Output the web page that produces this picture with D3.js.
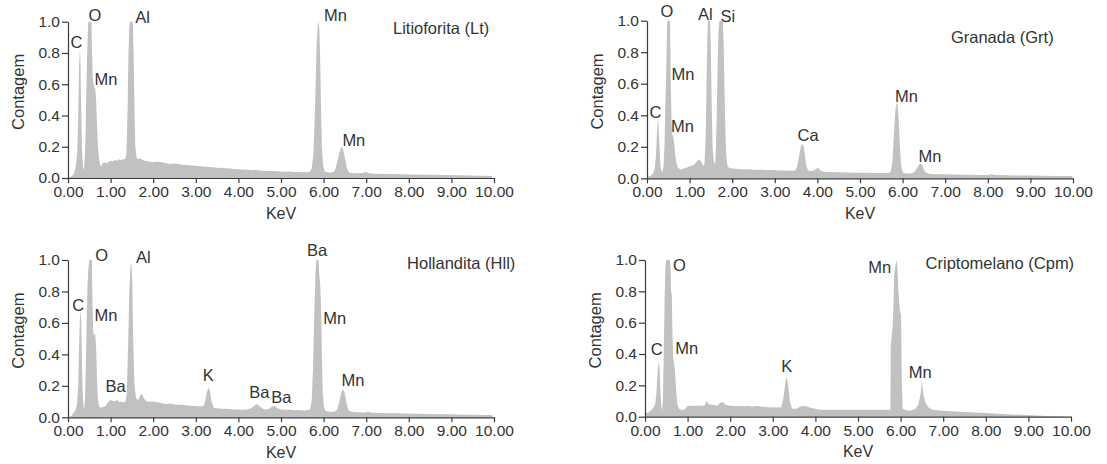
<!DOCTYPE html>
<html>
<head>
<meta charset="utf-8">
<script src="https://cdn.jsdelivr.net/npm/d3@7"></script>
<style>
  body { margin: 0; background: #fff; }
  text { font-family: "Liberation Sans", Arial, sans-serif; fill: #333; }
</style>
</head>
<body>
<svg id="chart" width="1107" height="464"></svg>
<script>
// EDS spectra, [keV, normalized count]
const ltSpectrum = [[0.00,0.00],[0.05,0.005],[0.10,0.015],[0.14,0.03],[0.18,0.07],[0.20,0.12],[0.22,0.18],[0.24,0.4],[0.26,0.72],[0.28,0.82],[0.29,0.78],[0.30,0.6],[0.31,0.45],[0.32,0.3],[0.33,0.18],[0.35,0.08],[0.37,0.05],[0.39,0.1],[0.41,0.25],[0.43,0.55],[0.45,0.8],[0.47,0.97],[0.48,1.0],[0.55,1.0],[0.56,0.85],[0.58,0.65],[0.60,0.6],[0.62,0.58],[0.64,0.57],[0.66,0.5],[0.68,0.35],[0.70,0.22],[0.72,0.14],[0.75,0.09],[0.78,0.07],[0.80,0.09],[0.85,0.1],[0.90,0.095],[0.95,0.1],[1.00,0.11],[1.05,0.105],[1.10,0.115],[1.15,0.11],[1.20,0.12],[1.25,0.115],[1.30,0.12],[1.34,0.12],[1.37,0.15],[1.40,0.45],[1.42,0.8],[1.44,0.97],[1.45,1.0],[1.52,1.0],[1.54,0.8],[1.56,0.45],[1.58,0.2],[1.61,0.13],[1.65,0.12],[1.70,0.125],[1.75,0.115],[1.80,0.11],[1.90,0.105],[2.00,0.1],[2.10,0.105],[2.20,0.1],[2.30,0.095],[2.40,0.09],[2.50,0.092],[2.60,0.088],[2.70,0.085],[2.80,0.083],[2.90,0.08],[3.00,0.078],[3.10,0.075],[3.20,0.073],[3.30,0.07],[3.40,0.068],[3.50,0.066],[3.60,0.065],[3.70,0.062],[3.80,0.06],[3.90,0.058],[4.00,0.056],[4.10,0.055],[4.20,0.053],[4.30,0.05],[4.40,0.052],[4.50,0.048],[4.60,0.047],[4.70,0.045],[4.80,0.044],[4.90,0.043],[5.00,0.042],[5.10,0.04],[5.20,0.041],[5.30,0.039],[5.40,0.038],[5.50,0.037],[5.60,0.036],[5.68,0.04],[5.72,0.06],[5.76,0.15],[5.80,0.45],[5.83,0.8],[5.86,0.97],[5.88,1.0],[5.90,0.95],[5.92,0.75],[5.94,0.45],[5.96,0.2],[5.99,0.08],[6.03,0.04],[6.10,0.035],[6.20,0.035],[6.26,0.045],[6.30,0.08],[6.35,0.14],[6.40,0.19],[6.43,0.2],[6.46,0.18],[6.50,0.13],[6.55,0.06],[6.60,0.035],[6.70,0.03],[6.80,0.03],[6.90,0.032],[7.00,0.038],[7.05,0.03],[7.20,0.027],[7.40,0.026],[7.60,0.025],[7.80,0.024],[8.00,0.023],[8.20,0.022],[8.40,0.021],[8.60,0.02],[8.80,0.019],[9.00,0.018],[9.20,0.017],[9.40,0.016],[9.60,0.015],[9.80,0.014],[9.95,0.013],[9.96,0]];

const grtSpectrum = [[0.00,0.01],[0.08,0.015],[0.14,0.03],[0.18,0.06],[0.21,0.14],[0.23,0.26],[0.25,0.36],[0.26,0.38],[0.27,0.34],[0.29,0.22],[0.31,0.1],[0.33,0.05],[0.36,0.04],[0.39,0.08],[0.41,0.2],[0.43,0.45],[0.45,0.66],[0.46,0.8],[0.47,0.95],[0.48,1.0],[0.54,1.0],[0.55,0.8],[0.56,0.55],[0.58,0.32],[0.60,0.27],[0.62,0.26],[0.64,0.22],[0.66,0.15],[0.69,0.1],[0.72,0.07],[0.76,0.06],[0.80,0.055],[0.85,0.06],[0.90,0.065],[0.95,0.07],[1.00,0.075],[1.05,0.08],[1.10,0.085],[1.15,0.1],[1.20,0.115],[1.24,0.12],[1.28,0.1],[1.32,0.08],[1.35,0.09],[1.38,0.3],[1.40,0.65],[1.42,0.92],[1.43,1.0],[1.48,1.0],[1.50,0.8],[1.52,0.45],[1.54,0.2],[1.57,0.1],[1.60,0.09],[1.62,0.2],[1.64,0.45],[1.66,0.75],[1.68,0.93],[1.70,1.0],[1.78,1.0],[1.80,0.85],[1.82,0.55],[1.84,0.3],[1.86,0.15],[1.89,0.08],[1.93,0.065],[2.00,0.062],[2.10,0.06],[2.20,0.058],[2.30,0.057],[2.40,0.058],[2.50,0.055],[2.60,0.054],[2.70,0.055],[2.80,0.053],[2.90,0.052],[3.00,0.052],[3.10,0.05],[3.20,0.05],[3.30,0.049],[3.40,0.048],[3.48,0.05],[3.53,0.08],[3.57,0.14],[3.61,0.2],[3.64,0.22],[3.68,0.2],[3.71,0.14],[3.74,0.08],[3.78,0.05],[3.85,0.045],[3.92,0.05],[3.98,0.062],[4.02,0.065],[4.07,0.05],[4.15,0.042],[4.30,0.04],[4.50,0.039],[4.70,0.037],[4.90,0.036],[5.10,0.035],[5.30,0.034],[5.50,0.034],[5.65,0.033],[5.72,0.04],[5.76,0.1],[5.80,0.3],[5.83,0.43],[5.86,0.48],[5.88,0.47],[5.91,0.36],[5.94,0.18],[5.97,0.07],[6.01,0.035],[6.10,0.03],[6.20,0.03],[6.28,0.04],[6.33,0.06],[6.38,0.085],[6.42,0.095],[6.46,0.085],[6.50,0.055],[6.55,0.035],[6.65,0.028],[6.80,0.026],[7.00,0.025],[7.20,0.024],[7.40,0.023],[7.60,0.022],[7.80,0.021],[8.00,0.021],[8.10,0.025],[8.15,0.021],[8.40,0.019],[8.70,0.018],[9.00,0.017],[9.30,0.016],[9.60,0.015],[9.98,0.014],[9.99,0]];

const hllSpectrum = [[0.00,0.00],[0.08,0.01],[0.14,0.03],[0.18,0.05],[0.21,0.08],[0.24,0.2],[0.26,0.45],[0.28,0.64],[0.30,0.67],[0.31,0.62],[0.32,0.45],[0.34,0.2],[0.36,0.08],[0.38,0.05],[0.40,0.12],[0.42,0.35],[0.44,0.65],[0.46,0.85],[0.48,0.95],[0.50,1.0],[0.56,1.0],[0.57,0.8],[0.59,0.55],[0.61,0.52],[0.64,0.53],[0.66,0.45],[0.68,0.25],[0.70,0.12],[0.73,0.07],[0.77,0.06],[0.82,0.065],[0.88,0.07],[0.95,0.1],[1.00,0.11],[1.05,0.105],[1.10,0.1],[1.15,0.11],[1.20,0.095],[1.25,0.1],[1.30,0.095],[1.35,0.1],[1.38,0.15],[1.41,0.45],[1.44,0.8],[1.47,0.97],[1.49,0.98],[1.51,0.85],[1.53,0.5],[1.56,0.2],[1.60,0.12],[1.65,0.11],[1.70,0.14],[1.74,0.15],[1.78,0.12],[1.85,0.1],[1.90,0.1],[2.00,0.1],[2.10,0.095],[2.20,0.09],[2.30,0.085],[2.40,0.088],[2.50,0.082],[2.60,0.08],[2.70,0.078],[2.80,0.075],[2.90,0.074],[3.00,0.072],[3.10,0.07],[3.18,0.07],[3.22,0.1],[3.26,0.16],[3.30,0.19],[3.33,0.17],[3.37,0.1],[3.42,0.06],[3.50,0.058],[3.60,0.055],[3.70,0.055],[3.80,0.052],[3.90,0.05],[4.00,0.05],[4.10,0.048],[4.20,0.05],[4.30,0.058],[4.38,0.075],[4.44,0.085],[4.50,0.07],[4.58,0.052],[4.65,0.05],[4.72,0.055],[4.80,0.07],[4.85,0.072],[4.92,0.058],[5.00,0.05],[5.10,0.048],[5.20,0.05],[5.30,0.045],[5.40,0.046],[5.50,0.044],[5.60,0.045],[5.68,0.05],[5.72,0.1],[5.75,0.3],[5.78,0.65],[5.81,0.92],[5.83,1.0],[5.88,1.0],[5.90,0.9],[5.92,0.85],[5.94,0.7],[5.96,0.4],[5.98,0.15],[6.01,0.06],[6.05,0.04],[6.15,0.035],[6.25,0.035],[6.32,0.05],[6.37,0.1],[6.42,0.16],[6.46,0.18],[6.50,0.15],[6.54,0.09],[6.58,0.045],[6.65,0.035],[6.80,0.032],[6.95,0.03],[7.05,0.035],[7.10,0.03],[7.30,0.028],[7.50,0.026],[7.70,0.025],[7.90,0.024],[8.10,0.023],[8.30,0.022],[8.50,0.021],[8.70,0.02],[8.90,0.019],[9.10,0.018],[9.30,0.017],[9.50,0.016],[9.70,0.015],[9.90,0.014],[9.96,0.013],[9.97,0]];

const cpmSpectrum = [[0.00,0.02],[0.10,0.03],[0.18,0.05],[0.24,0.08],[0.27,0.16],[0.30,0.3],[0.32,0.35],[0.34,0.32],[0.36,0.18],[0.38,0.07],[0.40,0.04],[0.42,0.1],[0.44,0.4],[0.46,0.75],[0.48,0.97],[0.50,1.0],[0.58,1.0],[0.60,0.95],[0.61,0.8],[0.63,0.78],[0.64,0.6],[0.66,0.37],[0.68,0.35],[0.70,0.3],[0.73,0.17],[0.76,0.08],[0.80,0.05],[0.88,0.04],[0.95,0.05],[1.00,0.07],[1.10,0.07],[1.20,0.07],[1.30,0.07],[1.40,0.072],[1.45,0.1],[1.50,0.08],[1.60,0.075],[1.70,0.072],[1.78,0.09],[1.84,0.09],[1.90,0.075],[2.00,0.07],[2.20,0.068],[2.35,0.066],[2.40,0.07],[2.45,0.066],[2.55,0.065],[2.62,0.07],[2.70,0.065],[2.90,0.06],[3.10,0.058],[3.20,0.06],[3.25,0.12],[3.30,0.23],[3.33,0.255],[3.36,0.2],[3.40,0.1],[3.45,0.05],[3.55,0.05],[3.65,0.065],[3.72,0.07],[3.80,0.065],[3.90,0.055],[4.00,0.05],[4.10,0.045],[4.30,0.045],[4.60,0.045],[5.00,0.045],[5.40,0.045],[5.76,0.045],[5.77,0.45],[5.82,0.6],[5.85,0.9],[5.88,0.97],[5.90,1.0],[5.92,0.97],[5.95,0.8],[5.98,0.68],[6.01,0.65],[6.03,0.2],[6.05,0.05],[6.15,0.04],[6.25,0.04],[6.35,0.05],[6.42,0.08],[6.47,0.15],[6.50,0.23],[6.53,0.15],[6.58,0.09],[6.65,0.06],[6.75,0.045],[7.00,0.038],[7.50,0.03],[8.00,0.023],[8.50,0.016],[9.00,0.01],[9.50,0.005],[9.95,0.0]];

// peak labels: [element, keV, count] (text centre)
const ltPeaks = [["C",0.20,0.866],["O",0.63,1.04],["Mn",0.89,0.633],["Al",1.75,1.03],["Mn",6.28,1.04],["Mn",6.71,0.24]];
const grtPeaks = [["C",0.20,0.42],["O",0.47,1.057],["Mn",0.845,0.66],["Mn",0.83,0.33],["Al",1.37,1.04],["Si",1.90,1.03],["Ca",3.78,0.275],["Mn",6.09,0.518],["Mn",6.64,0.143]];
const hllPeaks = [["C",0.24,0.714],["O",0.79,1.03],["Mn",0.89,0.65],["Al",1.77,1.02],["Ba",1.12,0.195],["K",3.29,0.27],["Ba",4.49,0.16],["Ba",5.01,0.125],["Ba",5.85,1.06],["Mn",6.26,0.63],["Mn",6.69,0.237]];
const cpmPeaks = [["C",0.275,0.432],["O",0.81,0.968],["Mn",0.98,0.436],["K",3.33,0.319],["Mn",5.51,0.953],["Mn",6.46,0.287]];

const titles = ["Litioforita (Lt)", "Granada (Grt)", "Hollandita (Hll)", "Criptomelano (Cpm)"];
const titleAt = [[8.76,0.958],[8.34,0.892],[9.23,0.981],[8.33,0.979]];

const xTicks = [0,1,2,3,4,5,6,7,8,9,10];
const yTicks = [0,0.2,0.4,0.6,0.8,1.0];

const fillColor = "#c1c1c1";
const axisColor = "#3a3a3a";

const svg = d3.select("#chart");

const panels = [
    {data: ltSpectrum,  peaks: ltPeaks,  left: 68,  right: 494,  top: 21.7, bottom: 178},
    {data: grtSpectrum, peaks: grtPeaks, left: 647, right: 1073, top: 20.7, bottom: 178.3},
    {data: hllSpectrum, peaks: hllPeaks, left: 68,  right: 494,  top: 260,  bottom: 417.3},
    {data: cpmSpectrum, peaks: cpmPeaks, left: 645, right: 1071, top: 260,  bottom: 416.7}
];

panels.forEach(function (p, i) {
    var x = d3.scaleLinear().domain([0, 10]).range([p.left, p.right]);
    var y = d3.scaleLinear().domain([0, 1]).range([p.bottom, p.top]);
    var g = svg.append("g");

    var area = d3.area()
        .x(function (d) { return x(d[0]); })
        .y0(y(0))
        .y1(function (d) { return y(d[1]); });

    g.append("path")
        .datum(p.data)
        .attr("d", area)
        .style("fill", fillColor);

    var xAxis = g.append("g")
        .attr("transform", "translate(0," + p.bottom + ")")
        .call(d3.axisBottom(x).tickValues(xTicks).tickFormat(d3.format(".2f")).tickSize(5).tickSizeOuter(0).tickPadding(3));

    var yAxis = g.append("g")
        .attr("transform", "translate(" + p.left + ",0)")
        .call(d3.axisLeft(y).tickValues(yTicks).tickFormat(d3.format(".1f")).tickSize(6).tickSizeOuter(0).tickPadding(2));

    [xAxis, yAxis].forEach(function (a) {
        a.selectAll("path, line").style("stroke", axisColor).style("stroke-width", 1.2);
        a.selectAll("text")
            .style("font-family", "'Liberation Sans', Arial, sans-serif")
            .style("font-size", "15.5px")
            .style("fill", "#333");
    });

    g.append("text")
        .attr("x", (p.left + p.right) / 2)
        .attr("y", p.bottom + 35)
        .attr("dy", "0.35em")
        .attr("text-anchor", "middle")
        .style("font-size", "16px")
        .text("KeV");

    g.append("text")
        .attr("transform", "translate(" + (p.left - 50) + "," + ((p.top + p.bottom) / 2 - 8) + ") rotate(-90)")
        .attr("dy", "0.35em")
        .attr("text-anchor", "middle")
        .style("font-size", "16.5px")
        .text("Contagem");

    g.selectAll(".peak")
        .data(p.peaks)
        .enter().append("text")
        .attr("class", "peak")
        .attr("x", function (d) { return x(d[1]); })
        .attr("y", function (d) { return y(d[2]); })
        .attr("dy", "0.35em")
        .attr("text-anchor", "middle")
        .style("font-size", "16.5px")
        .text(function (d) { return d[0]; });

    g.append("text")
        .attr("x", x(titleAt[i][0]))
        .attr("y", y(titleAt[i][1]))
        .attr("dy", "0.35em")
        .attr("text-anchor", "middle")
        .style("font-size", "16.5px")
        .text(titles[i]);
});
</script>
</body>
</html>
